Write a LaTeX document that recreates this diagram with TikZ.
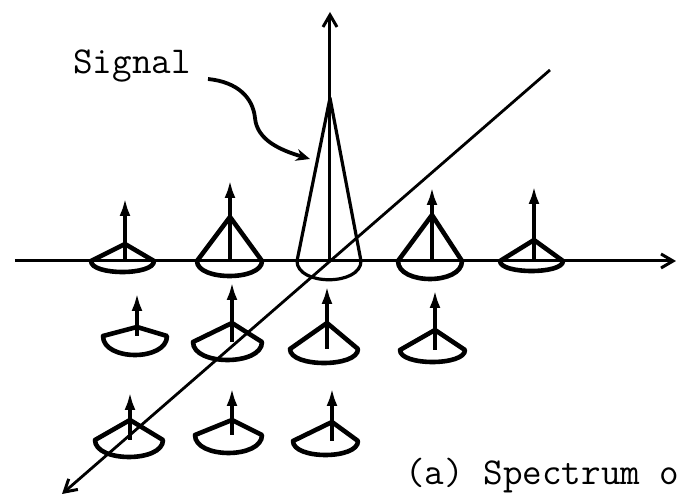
\documentclass[tikz,border=0pt]{standalone}
\usepackage{fontspec}
\usepackage{tikz}
\usetikzlibrary{arrows.meta,calc,positioning}

\begin{document}
\begin{tikzpicture}[x=0.5pt,y=-0.5pt,
    axis/.style={line width=1.5pt,-{Straight Barb[length=6pt,width=7pt,line width=1.5pt]}},
    cup/.style={line width=2.3pt,line join=round,line cap=round},
    stem/.style={line width=1.9pt,-{Latex[length=9pt,width=5.5pt]}},
    peak/.style={line width=1.6pt,line join=round},
    lbl/.style={font=\fontsize{19}{22}\selectfont\ttfamily,inner sep=0pt}
  ]
  \useasboundingbox (0,0) rectangle (677,496);
  % axes
  \coordinate (O) at (330,261);
  \coordinate (xl) at (15,261);
  \coordinate (xr) at (676,261);
  \coordinate (ytop) at (330,12);
  \coordinate (zback) at (550,70);
  \coordinate (zfront) at (62,494);
  \draw[axis] (xl) -- (xr);
  \draw[axis] (O) -- (ytop);
  \draw[axis,line width=1.4pt] (zback) -- (zfront);
  % signal peak
  \draw[peak] (297,261) -- (330,98) -- (361,261)
    .. controls (361,286) and (297,286) .. (297,261);
  % noise cups: stem x / left x / right x / base y / apex y / tip y / bottom y
  \foreach \sx/\lx/\rx/\by/\ay/\ty/\dy in {
      125/91/154/261/244/198/272, 230/197/262/261/217/180/276,
      432/398/462/261/215/187/279, 534/500/563/261/240/186/271,
      137/103/167/336/327/293/355, 232/193/262/342/323/282/360,
      327/290/358/349/323/286/363, 435/400/465/350/330/290/362,
      130/95/163/440/420/392/457, 232/195/262/435/420/388/453,
      332/293/358/441/422/388/455}{
    \draw[cup] (\lx,\by) -- (\sx,\ay) -- (\rx,\by)
      .. controls (\rx,{\by+(\dy-\by)*4/3}) and (\lx,{\by+(\dy-\by)*4/3}) .. (\lx,\by);
    \draw[stem] (\sx,\by) -- (\sx,\ty);
  }
  % labels
  \node[lbl,anchor=base west] (sig) at (73,74) {Signal};
  \coordinate (sigtail) at (208,79);
  \coordinate (sighead) at (310,159);
  \draw[line width=1.9pt,-{Stealth[length=7pt,width=6pt]}] (sigtail)
    .. controls (238,82) and (253,98) .. (255,118)
    .. controls (257,140) and (280,150) .. (sighead);
  \node[lbl,anchor=base west] (caption) at (405,485) {(a) Spectrum o};
\end{tikzpicture}
\end{document}
